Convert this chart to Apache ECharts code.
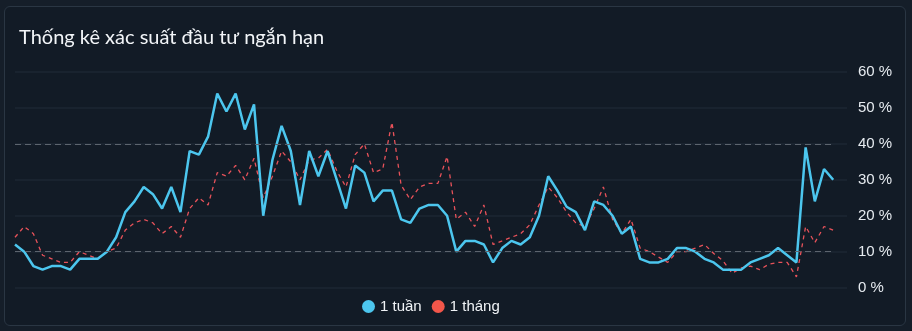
<!DOCTYPE html>
<html>
<head>
<meta charset="utf-8">
<script src="https://cdn.jsdelivr.net/npm/echarts@6/dist/echarts.min.js"></script>
<style>
html,body{margin:0;padding:0;background:#151e29;width:912px;height:331px;overflow:hidden;}
#panel{position:absolute;left:4px;top:6px;width:902px;height:320px;border:1px solid #2a3643;border-radius:6px;background:#121b26;box-sizing:border-box;}
#chart{position:absolute;left:0;top:0;width:912px;height:331px;}
</style>
</head>
<body>
<div id="panel"></div>
<div id="chart"></div>
<script>
const titleText = "Thống kê xác suất đầu tư ngắn hạn";
const seriesNames = ["1 tuần", "1 tháng"];
const oneWeek = [12,10,6,5,6,6,5,8,8,8,10,14,21,24,28,26,22,28,21,38,37,42,54,49,54,44,51,20,35.5,45,38,
  23,38,31,38,30,22,34,32,24,27,27,19,18,22,23,23,20,10,13,13,12,7,11,13,12,14,20,31,27,22.5,21,
  16,24,23,20,15,17,8,7,7,8,11,11,10,8,7,5,5,5,7,8,9,11,9,7,39,24,33,30];
const oneMonth = [14,17,15,9,8,7,7,10,9,8,10,11,16,18,19,18,15,17,14,22,25,23,32,31,34,30,36,25,31,38,35,
  30,35.5,36,38.5,32.5,28,37,40,32,33,46,28.5,24.5,28,29,29,36.5,19,21,17,23,12,13,14,15,17.5,23,28,25,21,18,
  17,22,28,19,15,19,11,10,8.5,7,10,10,11,12,9.5,7.5,4,5.5,6,5,6.5,7,7,3,17,12.5,17,16];
const yTicks = [0,10,20,30,40,50,60];
const thresholds = [10,40];

const toPairs = arr => arr.map((v,i)=>[i,v]);
const lastIdx = oneWeek.length - 1;

const chart = echarts.init(document.getElementById('chart'), null, {renderer:'canvas'});
chart.setOption({
  backgroundColor: 'transparent',
  animation: false,
  title: {
    text: titleText,
    left: 14, top: 23,
    textStyle: {color:'#f2f5f8', fontFamily:'Lato', fontWeight:'normal', fontSize:20}
  },
  legend: {
    data: seriesNames,
    left: 362, top: 299, padding: 0,
    icon: 'circle', itemWidth: 13, itemHeight: 13, itemGap: 10,
    textStyle: {color:'#f0f3f6', fontFamily:'Liberation Sans', fontSize:15}
  },
  grid: {left: 15, right: 65, top: 72, bottom: 43.4, containLabel: false},
  xAxis: {
    type: 'value', min: 0, max: 90.5,
    show: false,
    splitLine: {show:false}
  },
  yAxis: {
    type: 'value', position: 'right',
    min: yTicks[0], max: yTicks[yTicks.length-1], interval: 10,
    axisLine: {show:false}, axisTick: {show:false},
    axisLabel: {color:'#e6ebf0', fontFamily:'Liberation Sans', fontSize:15, margin:11, formatter:'{value} %'},
    splitLine: {lineStyle:{color:'#1d2733', width:1.5}}
  },
  series: [
    {
      name: seriesNames[0], type: 'line', data: toPairs(oneWeek),
      showSymbol: false, symbol: 'none',
      itemStyle: {color:'#4cc6ee'},
      lineStyle: {color:'#4cc6ee', width:2.5},
      z: 3,
      markLine: {
        silent: true, symbol: 'none', label: {show:false},
        lineStyle: {color:'#5c646e', type:[6,4], width:1.2},
        data: thresholds.map(t => [{coord:[0,t]},{coord:[lastIdx,t]}])
      }
    },
    {
      name: seriesNames[1], type: 'line', data: toPairs(oneMonth),
      showSymbol: false, symbol: 'none',
      itemStyle: {color:'#f2564a'},
      lineStyle: {color:'#e8525a', width:1.3, type:[4,4]},
      z: 2
    }
  ]
});
</script>
</body>
</html>
